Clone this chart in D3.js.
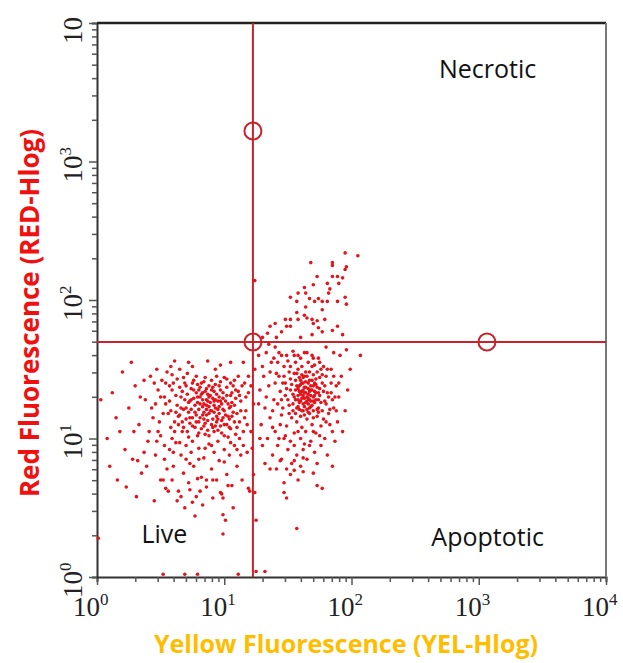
<!DOCTYPE html>
<html>
<head>
<meta charset="utf-8">
<script src="https://cdn.jsdelivr.net/npm/d3@7"></script>
<style>
  body { margin: 0; background: #fff; }
</style>
</head>
<body>
<div id="plot"></div>
<script>
// events, as [log10 YEL-Hlog, log10 RED-Hlog]
const liveEvents = [
  [0.62,1.31],[0.66,1.22],[0.70,1.38],[0.73,1.27],[0.75,1.15],[0.78,1.33],[0.80,1.21],[0.82,1.40],[0.84,1.09],[0.86,1.28],
  [0.88,1.18],[0.90,1.35],[0.92,1.24],[0.94,1.12],[0.96,1.30],[0.98,1.04],[1.00,1.20],[1.02,1.37],[1.04,1.14],[1.06,1.26],
  [1.08,1.42],[1.10,1.08],[1.12,1.31],[0.64,1.10],[0.68,1.44],[0.71,1.05],[0.74,1.36],[0.77,1.24],[0.79,1.02],[0.81,1.30],
  [0.83,1.17],[0.85,1.44],[0.87,1.06],[0.89,1.26],[0.91,1.14],[0.93,1.39],[0.95,1.21],[0.97,1.09],[0.99,1.33],[1.01,1.27],
  [1.03,1.01],[1.05,1.40],[1.07,1.19],[1.09,1.29],[1.11,1.45],[0.60,1.40],[0.65,1.17],[0.69,1.28],[0.72,1.19],[0.76,1.42],
  [0.80,1.12],[0.84,1.25],[0.88,1.38],[0.92,1.05],[0.96,1.18],[1.00,1.44],[1.04,1.22],[1.08,1.12],[0.67,1.34],[0.73,1.11],
  [0.79,1.39],[0.85,1.03],[0.91,1.29],[0.97,1.41],[1.03,1.16],[1.09,1.35],[0.63,1.24],[0.70,1.14],[0.76,1.29],[0.82,1.07],
  [0.88,1.23],[0.94,1.32],[1.00,1.10],[1.06,1.33],[0.78,1.17],[0.86,1.36],[0.94,1.16],[0.98,1.25],[0.74,1.21],[0.83,1.33],
  [0.90,1.20],[0.87,1.13],[0.81,1.25],[0.95,1.27],[0.89,1.31],[0.77,1.08],[1.02,1.31],[0.71,1.32],[0.84,1.19],[0.93,1.09],
  [0.99,1.15],[0.68,1.21],[1.05,1.07],[1.13,1.20],[1.14,1.38],[0.58,1.20],[0.61,1.12],[0.86,1.21],[0.92,1.34],[0.80,1.35],
  [0.57,1.27],[0.59,1.35],[0.61,1.05],[0.63,1.43],[0.64,1.16],[0.66,1.30],[0.67,1.12],[0.69,1.40],[0.70,1.22],[0.71,1.47],
  [0.72,1.01],[0.74,1.28],[0.75,1.09],[0.76,1.35],[0.77,1.19],[0.78,1.45],[0.79,1.26],[0.80,1.04],[0.81,1.15],[0.82,1.32],
  [0.83,1.23],[0.84,1.41],[0.85,1.11],[0.86,1.17],[0.87,1.32],[0.88,1.02],[0.89,1.20],[0.90,1.42],[0.91,1.08],[0.92,1.19],
  [0.93,1.28],[0.94,1.45],[0.95,1.06],[0.96,1.23],[0.97,1.35],[0.98,1.13],[0.99,1.29],[1.00,1.02],[1.01,1.17],[1.02,1.43],
  [1.03,1.25],[1.04,1.08],[1.05,1.31],[1.06,1.16],[1.07,1.38],[1.08,1.24],[1.09,1.03],[1.10,1.18],[1.11,1.34],[1.12,1.12],
  [1.13,1.27],[1.15,1.05],[1.16,1.40],[1.17,1.20],[1.19,1.33],[0.62,1.19],[0.65,1.37],[0.68,1.08],[0.72,1.26],[0.75,1.40],
  [0.78,1.12],[0.81,1.37],[0.84,1.14],[0.87,1.27],[0.90,1.10],[0.93,1.22],[0.96,1.38],[0.99,1.21],[1.02,1.10],[1.05,1.23],
  [0.83,1.28],[0.88,1.30],[0.92,1.27],[0.86,1.24],[0.79,1.30],[0.95,1.14],[0.73,1.15],[0.97,1.27],[0.85,1.34],[0.91,1.37],
  [0.52,1.18],[0.50,1.30],[0.48,1.05],[0.46,1.25],[0.54,1.40],[0.45,1.40],[0.53,0.95],[0.60,0.90],[0.70,0.85],[0.80,0.85],
  [0.90,0.95],[1.00,0.83],[1.10,0.92],[0.65,0.97],[0.75,0.98],[0.85,0.93],[0.95,0.98],[1.05,0.97],[1.15,0.95],[0.58,1.52],
  [0.12,1.33],[0.18,1.05],[0.22,0.92],[0.25,1.22],[0.28,0.85],[0.30,1.38],[0.33,1.10],[0.35,0.75],[0.38,1.28],[0.40,0.98],
  [0.42,1.45],[0.44,1.15],[0.46,0.88],[0.48,1.35],[0.50,1.02],[0.52,0.70],[0.54,1.25],[0.55,1.48],[0.57,0.92],[0.58,1.08],
  [0.60,0.80],[0.62,0.97],[0.64,0.62],[0.65,1.50],[0.66,0.88],[0.68,0.75],[0.70,0.95],[0.72,0.68],[0.74,0.90],[0.75,1.52],
  [0.76,0.80],[0.78,0.58],[0.80,0.93],[0.82,0.72],[0.84,0.86],[0.86,0.65],[0.88,0.96],[0.90,0.78],[0.92,0.90],[0.93,1.50],
  [0.94,0.70],[0.96,0.84],[0.98,0.60],[1.00,0.92],[1.02,0.74],[1.04,0.88],[1.06,0.66],[1.08,0.95],[1.10,0.80],[1.12,1.00],
  [1.14,0.70],[1.16,1.15],[1.17,1.30],[1.18,0.90],[1.19,1.45],[1.15,1.55],[1.05,1.55],[0.97,1.53],[0.87,1.56],[0.72,1.55],
  [0.59,1.46],[0.47,1.50],[0.37,1.42],[0.27,1.55],[0.20,1.48],[0.15,1.15],[0.08,1.00],[0.03,1.28],[0.10,0.80],[0.16,0.70],
  [0.23,0.65],[0.31,0.58],[0.39,0.80],[0.45,0.55],[0.53,0.85],[0.56,0.62],[0.63,0.55],[0.69,0.50],[0.77,0.44],[0.83,0.52],
  [0.91,0.57],[0.99,0.45],[1.07,0.50],[0.43,1.22],[0.49,1.12],[0.51,1.42],[0.53,1.30],[0.56,1.18],[0.57,1.38],[0.59,1.00],
  [0.34,1.30],[0.29,1.05],[0.41,1.05],[0.47,0.98],[0.37,0.90],[0.61,1.56],[0.67,1.05],[1.18,1.10],[1.13,0.88],[1.20,0.62],
  [0.81,0.62],[0.73,0.82],[0.55,0.78],[0.32,0.84],[0.50,0.70],[0.54,0.64],[0.59,0.70],[0.66,0.58],[0.75,0.54],[0.73,0.63],
  [0.79,0.71],[0.86,0.70],[0.91,0.70],[0.97,0.61],[0.99,0.57],[1.01,0.41],[0.99,0.31],[1.03,0.66],[1.19,0.64],[1.23,0.74],
  [1.24,0.61],[1.25,0.41],[1.21,1.05],[1.22,0.93],[1.23,1.25],[1.21,1.38],[1.24,1.50]
];

const apoptoticEvents = [
  [1.55,1.30],[1.58,1.36],[1.60,1.27],[1.62,1.40],[1.64,1.33],[1.66,1.25],[1.68,1.38],[1.70,1.30],[1.72,1.43],[1.74,1.22],
  [1.56,1.42],[1.59,1.21],[1.61,1.34],[1.63,1.29],[1.65,1.45],[1.67,1.18],[1.69,1.35],[1.71,1.26],[1.73,1.37],[1.75,1.31],
  [1.52,1.35],[1.54,1.25],[1.57,1.47],[1.60,1.39],[1.62,1.20],[1.64,1.41],[1.66,1.32],[1.68,1.23],[1.70,1.46],[1.72,1.28],
  [1.77,1.40],[1.79,1.27],[1.50,1.28],[1.48,1.40],[1.46,1.22],[1.53,1.15],[1.57,1.12],[1.61,1.08],[1.65,1.14],[1.69,1.10],
  [1.73,1.16],[1.77,1.20],[1.81,1.33],[1.80,1.45],[1.76,1.50],[1.71,1.53],[1.66,1.55],[1.61,1.52],[1.56,1.55],[1.51,1.48],
  [1.47,1.52],[1.44,1.34],[1.42,1.25],[1.45,1.17],[1.49,1.09],[1.55,1.04],[1.60,1.00],[1.64,1.05],[1.68,0.98],[1.72,1.04],
  [1.76,1.09],[1.82,1.18],[1.85,1.28],[1.84,1.40],[1.58,1.31],[1.63,1.37],[1.67,1.28],[1.59,1.44],[1.65,1.21],[1.69,1.42],
  [1.62,1.25],[1.57,1.38],[1.71,1.34],[1.74,1.28],[1.60,1.32],[1.66,1.36],[1.54,1.32],[1.63,1.17],[1.70,1.20],[1.52,1.43],
  [1.67,1.48],[1.75,1.44],[1.78,1.34],[1.48,1.31],[1.56,1.18],[1.61,1.46],[1.73,1.21],[1.64,1.26],[1.59,1.26],[1.68,1.31],
  [1.62,1.31],[1.66,1.40],[1.58,1.23],[1.70,1.38],
  [1.47,1.45],[1.49,1.36],[1.51,1.24],[1.52,1.52],[1.53,1.39],[1.54,1.20],[1.55,1.47],[1.56,1.28],[1.57,1.22],[1.58,1.50],
  [1.59,1.38],[1.60,1.16],[1.61,1.29],[1.62,1.44],[1.63,1.23],[1.64,1.48],[1.65,1.30],[1.66,1.19],[1.67,1.42],[1.68,1.27],
  [1.69,1.52],[1.70,1.15],[1.71,1.40],[1.72,1.33],[1.73,1.48],[1.74,1.19],[1.75,1.36],[1.76,1.26],[1.77,1.46],[1.78,1.14],
  [1.79,1.38],[1.80,1.25],[1.81,1.50],[1.82,1.30],[1.83,1.21],[1.84,1.33],[1.86,1.45],[1.87,1.30],[1.88,1.20],[1.90,1.40],
  [1.59,1.34],[1.61,1.40],[1.63,1.33],[1.65,1.27],[1.67,1.34],[1.69,1.24],[1.71,1.31],[1.64,1.37],[1.66,1.29],[1.62,1.35],
  [1.58,1.28],[1.68,1.35],[1.72,1.39],[1.60,1.42],[1.56,1.35],[1.70,1.27],[1.74,1.33],[1.63,1.45],[1.67,1.22],[1.61,1.20],
  [1.40,1.40],[1.38,1.20],[1.42,1.55],[1.45,1.28],[1.43,1.45],[1.36,1.48],[1.33,1.30],[1.39,1.58],[1.45,1.60],[1.50,1.56],
  [1.55,1.60],[1.60,1.58],[1.65,1.62],[1.70,1.58],[1.75,1.55],[1.48,1.02],[1.52,0.98],[1.58,1.05],[1.63,0.96],[1.70,1.05],
  [1.75,1.02],[1.80,1.12],[1.85,1.05],[1.43,1.00],[1.38,1.08],
  [1.27,1.60],[1.28,1.35],[1.29,1.10],[1.30,0.95],[1.31,1.45],[1.32,1.22],[1.33,1.62],[1.34,1.00],[1.35,1.38],[1.36,1.15],
  [1.37,1.55],[1.38,0.88],[1.39,1.28],[1.40,1.05],[1.41,1.47],[1.42,0.95],[1.43,1.62],[1.44,1.10],[1.45,0.85],[1.46,1.40],
  [1.47,1.00],[1.49,1.60],[1.50,0.92],[1.51,1.18],[1.53,0.82],[1.54,1.63],[1.55,0.95],[1.57,0.88],[1.58,1.60],[1.60,0.80],
  [1.62,0.92],[1.63,1.62],[1.65,0.85],[1.67,0.95],[1.69,1.60],[1.71,0.90],[1.73,0.82],[1.74,1.58],[1.76,0.95],[1.78,1.52],
  [1.79,1.00],[1.81,0.88],[1.83,1.10],[1.84,1.50],[1.86,1.22],[1.87,0.98],[1.88,1.38],[1.89,1.12],[1.90,1.30],[1.92,1.45],
  [1.93,1.05],[1.95,1.20],[1.97,1.35],[1.99,1.50],[1.91,1.60],[1.86,1.62],[1.80,1.66],[1.40,1.66],[1.35,1.68],[1.30,1.52],
  [1.27,1.25],[1.28,1.00],[1.32,0.82],[1.36,0.78],[1.52,0.74],[1.58,0.70],[1.70,0.75],[1.85,0.80],[1.41,0.78],[1.47,0.68],
  [1.44,0.84],[1.49,0.78],[1.55,0.84],[1.55,0.77],[1.62,0.76],[1.62,0.86],[1.73,0.66],[1.77,0.64],[1.47,0.61],[1.49,0.57],
  [1.57,0.35],[2.07,1.60],[1.96,1.64]
];

const necroticEvents = [
  [1.95,2.34],[2.05,2.32],[1.68,2.27],[1.85,2.27],[1.85,2.25],[1.96,2.24],[1.95,2.22],[1.73,2.17],[1.85,2.17],[1.89,2.17],
  [1.93,2.16],[1.70,2.11],[1.81,2.12],[1.90,2.12],[1.83,2.08],[1.82,2.05],[1.52,2.02],[1.58,2.05],[1.63,2.09],[1.64,2.05],
  [1.67,2.01],[1.71,1.99],[1.74,2.01],[1.77,1.99],[1.81,1.99],[1.89,1.99],[1.95,2.02],[1.96,1.97],[1.57,1.99],[1.64,1.95],
  [1.77,1.93],[1.57,1.91],[1.63,1.89],[1.58,1.86],[1.65,1.87],[1.69,1.86],[1.73,1.85],[1.79,1.86],[1.48,1.86],[1.52,1.86],
  [1.40,1.83],[1.36,1.81],[1.49,1.81],[1.52,1.81],[1.45,1.77],[1.41,1.73],[1.69,1.75],[1.74,1.80],[1.77,1.77],[1.85,1.78],
  [1.89,1.81],[1.93,1.75],[1.70,1.83],[1.24,2.14],[1.30,1.73],[1.34,1.76],[1.60,1.73]
];

// events piled on the axes (off-scale)
const strayEvents = [[0.01,0.28],[0.52,0.02],[0.69,0.02],[0.79,0.02],[1.11,0.02],[1.32,0.04],[1.25,0.04]];

// gates
const gateYel = 16.8;
const gateRed = 49.8;
const gateHandles = [[16.8, 1660], [16.8, 49.8], [1160, 49.8]];

const decades = [0, 1, 2, 3, 4];
const xTickLabels = [['10','0'], ['10','1'], ['10','2'], ['10','3'], ['10','4']];
const yTickLabels = [['10','0'], ['10','1'], ['10','2'], ['10','3'], ['10','']];

const quadrantNames = ['Necrotic', 'Live', 'Apoptotic'];
const quadrantSpots = [[10**3.07, 10**3.60], [10**0.53, 10**0.245], [10**3.07, 10**0.224]];

const xTitle = 'Yellow Fluorescence (YEL-Hlog)';
const yTitle = 'Red Fluorescence (RED-Hlog)';

// layout
const W = 623, H = 663;
const margin = {top: 23, right: 17, bottom: 86, left: 97};

const svg = d3.select('#plot').append('svg')
    .attr('width', W)
    .attr('height', H);

const x = d3.scaleLog().domain([1, 1e4]).range([margin.left, W - margin.right]);
const y = d3.scaleLog().domain([1, 1e4]).range([H - margin.bottom, margin.top]);

// minor + major tick values 1..9 per decade
var logTicks = [];
for (let d = 0; d < 4; d++) {
    for (let k = 1; k < 10; k++) logTicks.push(k * 10 ** d);
}
logTicks.push(1e4);
const isMajor = v => Math.abs(Math.log10(v) - Math.round(Math.log10(v))) < 1e-9;

// axes
const xAxis = svg.append('g')
    .attr('transform', `translate(0, ${H - margin.bottom})`)
    .call(d3.axisBottom(x).tickValues(logTicks).tickSize(5).tickFormat(''));
const yAxis = svg.append('g')
    .attr('transform', `translate(${margin.left}, 0)`)
    .call(d3.axisLeft(y).tickValues(logTicks).tickSize(5).tickFormat(''));

[xAxis, yAxis].forEach(a => {
    a.select('.domain').attr('stroke', '#333').attr('stroke-width', 2);
    a.selectAll('.tick line').attr('stroke', '#555').attr('stroke-width', 1.5);
});
xAxis.selectAll('.tick line').filter(isMajor).attr('y2', 8);
yAxis.selectAll('.tick line').filter(isMajor).attr('x2', -8);

// top + right frame
svg.append('line')
    .attr('x1', margin.left).attr('x2', W - margin.right)
    .attr('y1', margin.top).attr('y2', margin.top)
    .attr('stroke', '#222').attr('stroke-width', 2.5);
svg.append('line')
    .attr('x1', W - margin.right).attr('x2', W - margin.right)
    .attr('y1', margin.top).attr('y2', H - margin.bottom)
    .attr('stroke', '#777').attr('stroke-width', 2);

// decade labels
const xLab = svg.append('g').selectAll('text')
    .data(decades)
    .enter()
    .append('text')
    .attr('x', d => x(10 ** d) - 24)
    .attr('y', H - margin.bottom + 39)
    .style('font-family', '"Liberation Serif", serif')
    .style('font-size', '27px')
    .style('fill', '#222');
xLab.append('tspan').text(d => xTickLabels[d][0]);
xLab.append('tspan').attr('dy', -11).style('font-size', '17px').text(d => xTickLabels[d][1]);

const yLab = svg.append('g').selectAll('text')
    .data(decades)
    .enter()
    .append('text')
    .attr('transform', d => `translate(82, ${y(10 ** d) + 21}) rotate(-90)`)
    .style('font-family', '"Liberation Serif", serif')
    .style('font-size', '27px')
    .style('fill', '#222');
yLab.append('tspan').text(d => yTickLabels[d][0]);
yLab.append('tspan').attr('dy', -11).style('font-size', '17px').text(d => yTickLabels[d][1]);

// gate lines
const gateColor = '#c8222a';
svg.append('line')
    .attr('x1', x(gateYel)).attr('x2', x(gateYel))
    .attr('y1', margin.top).attr('y2', H - margin.bottom)
    .attr('stroke', gateColor).attr('stroke-width', 2);
svg.append('line')
    .attr('x1', margin.left).attr('x2', W - margin.right)
    .attr('y1', y(gateRed)).attr('y2', y(gateRed))
    .attr('stroke', gateColor).attr('stroke-width', 2);

// events
const allEvents = liveEvents.concat(apoptoticEvents, necroticEvents, strayEvents);
svg.append('g').selectAll('circle')
    .data(allEvents)
    .enter()
    .append('circle')
    .attr('cx', d => x(10 ** d[0]))
    .attr('cy', d => y(10 ** d[1]))
    .attr('r', 1.8)
    .attr('fill', '#e3141c');

// gate handles
svg.append('g').selectAll('circle')
    .data(gateHandles)
    .enter()
    .append('circle')
    .attr('cx', d => x(d[0]))
    .attr('cy', d => y(d[1]))
    .attr('r', 8.5)
    .attr('fill', 'none')
    .attr('stroke', gateColor)
    .attr('stroke-width', 2);

// quadrant names
svg.append('g').selectAll('text')
    .data(quadrantNames)
    .enter()
    .append('text')
    .attr('x', (d, i) => x(quadrantSpots[i][0]))
    .attr('y', (d, i) => y(quadrantSpots[i][1]))
    .attr('text-anchor', 'middle')
    .style('font-family', '"Open Sans", sans-serif')
    .style('font-size', '25px')
    .style('fill', '#111')
    .text(d => d);

// axis titles
svg.append('text')
    .attr('x', 346)
    .attr('y', H - 10)
    .attr('text-anchor', 'middle')
    .style('font-family', '"Open Sans", sans-serif')
    .style('font-weight', 'bold')
    .style('font-size', '25px')
    .style('fill', '#ffbd00')
    .text(xTitle);

svg.append('text')
    .attr('transform', `translate(39, 313) rotate(-90)`)
    .attr('text-anchor', 'middle')
    .style('font-family', '"Open Sans", sans-serif')
    .style('font-weight', 'bold')
    .style('font-size', '26px')
    .style('fill', '#f01010')
    .text(yTitle);
</script>
</body>
</html>
